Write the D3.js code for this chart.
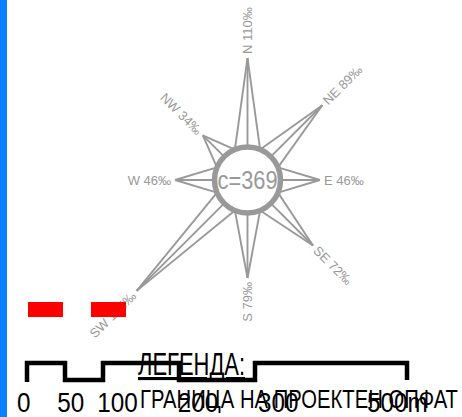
<!DOCTYPE html>
<html>
<head>
<meta charset="utf-8">
<script src="https://cdn.jsdelivr.net/npm/d3@7"></script>
<style>
  body { margin: 0; background: #fff; }
  text { font-family: "Liberation Sans", Arial, sans-serif; }
</style>
</head>
<body>
<div id="rose"></div>
<script>
// Wind rose data (per mille) and calm count
const directions = ["N", "NE", "E", "SE", "S", "SW", "W", "NW"];
const frequencies = [110, 89, 46, 72, 79, 155, 46, 34];
const calm = 369;

// Scale bar ticks
const scaleTicks = [0, 50, 100, 200, 300, 500];
const scaleLabels = ["0", "50", "100", "200", "300", "500m"];

// Legend texts
const legendTitle = "ЛЕГЕНДА:";
const legendItem = "ГРАНИЦА НА ПРОЕКТЕН ОПФАТ";

const width = 462,
      height = 417;

const svg = d3.select("#rose")
    .append("svg")
    .attr("width", width)
    .attr("height", height);

// blue strip on the left edge
svg.append("rect")
    .attr("x", 0).attr("y", 0)
    .attr("width", 7).attr("height", height)
    .attr("fill", "#0a80ff");

// wind rose
const cx = 247.5, cy = 180, r0 = 33;
const grey = "#999";

const lenScale = d3.scaleLinear()
    .domain([46, 110])
    .range([72.5, 122]);

const angleScale = d3.scalePoint()
    .domain(directions)
    .range([-90, 225]);   // screen degrees, N up, clockwise

const rad = a => a * Math.PI / 180;
const pt = (a, r) => [cx + r * Math.cos(rad(a)), cy + r * Math.sin(rad(a))];

const rose = svg.append("g");

directions.forEach((dir, i) => {
    const a = angleScale(dir);
    const L = lenScale(frequencies[i]);
    const tip = pt(a, L);
    [a - 22.5, a, a + 22.5].forEach(b => {
        const base = pt(b, r0);
        rose.append("line")
            .attr("x1", tip[0]).attr("y1", tip[1])
            .attr("x2", base[0]).attr("y2", base[1])
            .attr("stroke", grey)
            .attr("stroke-width", 1.9);
    });

    // label beyond the tip, kept readable
    const lp = pt(a, L + 4);
    const keep = a >= -90 && a < 90;
    rose.append("text")
        .attr("transform", `translate(${lp[0]},${lp[1]}) rotate(${keep ? a : a - 180})`)
        .attr("text-anchor", keep ? "start" : "end")
        .attr("dy", "0.35em")
        .attr("font-size", 13)
        .attr("fill", grey)
        .text(`${dir} ${frequencies[i]}‰`);
});

rose.append("circle")
    .attr("cx", cx).attr("cy", cy).attr("r", r0)
    .attr("fill", "#fff")
    .attr("stroke", grey)
    .attr("stroke-width", 5.5);

rose.append("text")
    .attr("x", cx).attr("y", cy)
    .attr("dy", "0.36em")
    .attr("text-anchor", "middle")
    .attr("font-size", 25)
    .attr("textLength", 60)
    .attr("lengthAdjust", "spacingAndGlyphs")
    .attr("fill", grey)
    .text(`c=${calm}`);

// scale bar
const xBar = d3.scaleLinear()
    .domain([0, 500])
    .range([27, 407]);

const yHigh = 363, yLow = 380;
let barPath = `M${xBar(scaleTicks[0])},${yLow + 2}L${xBar(scaleTicks[0])},${yHigh}`;
for (let i = 1; i < scaleTicks.length; i++) {
    const yPrev = i % 2 === 1 ? yHigh : yLow;
    const yNext = i % 2 === 1 ? yLow : yHigh;
    barPath += `L${xBar(scaleTicks[i])},${yPrev}L${xBar(scaleTicks[i])},${yNext}`;
}
svg.append("path")
    .attr("d", barPath)
    .attr("fill", "none")
    .attr("stroke", "#000")
    .attr("stroke-width", 4.5);

// legend
svg.append("text")
    .attr("x", 138).attr("y", 375)
    .attr("font-size", 31)
    .attr("textLength", 107)
    .attr("lengthAdjust", "spacingAndGlyphs")
    .attr("text-decoration", "underline")
    .text(legendTitle);

svg.append("text")
    .attr("x", 140).attr("y", 408)
    .attr("font-size", 26)
    .attr("textLength", 318)
    .attr("lengthAdjust", "spacingAndGlyphs")
    .text(legendItem);

// scale labels
const xLabel = d3.scaleLinear()
    .domain([0, 300, 500])
    .range([17, 258, 367]);

svg.selectAll(".bar-label")
    .data(scaleTicks)
    .enter().append("text")
    .attr("class", "bar-label")
    .attr("transform", d => `translate(${xLabel(d)},412) scale(0.9,1)`)
    .attr("font-size", 27)
    .text((d, i) => scaleLabels[i]);

// red marks
const redMarks = [0, 1];
const xRed = d3.scaleLinear().domain([0, 1]).range([28, 91]);
svg.selectAll(".red")
    .data(redMarks)
    .enter().append("rect")
    .attr("class", "red")
    .attr("x", d => xRed(d))
    .attr("y", 302)
    .attr("width", 35)
    .attr("height", 15)
    .attr("fill", "#ff0000");
</script>
</body>
</html>
